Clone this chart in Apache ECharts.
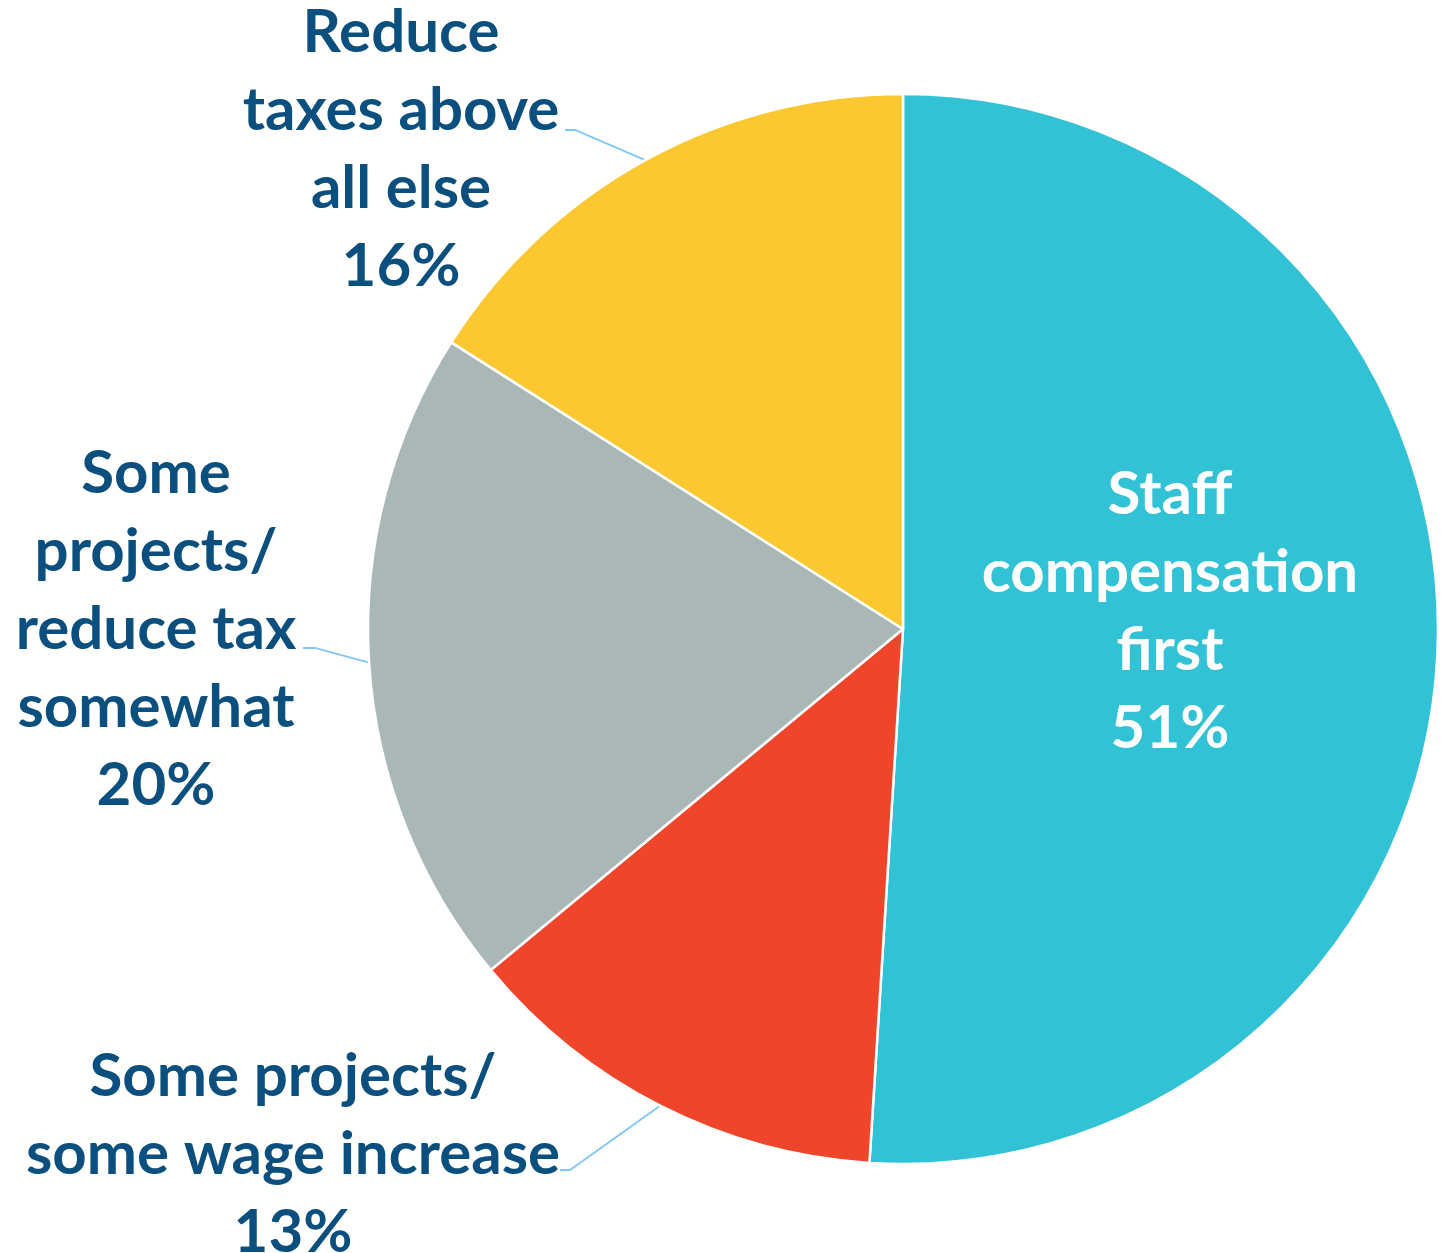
<!DOCTYPE html>
<html><head><meta charset="utf-8">
<script src="https://cdn.jsdelivr.net/npm/echarts@6/dist/echarts.min.js"></script>
<style>html,body{margin:0;padding:0;background:#fff}#c{width:1442px;height:1253px}</style>
</head><body><div id="c"></div>
<script>
const categories = ['Staff\ncompensation\nfirst', 'Some projects/\nsome wage increase', 'Some\nprojects/\nreduce tax\nsomewhat', 'Reduce\ntaxes above\nall else'];
const values = [51, 13, 20, 16];
const colors = ['#31C2D5', '#EF462B', '#A9B8B6', '#FCC831'];

// label placement (layout only)
const labelPlaces = [
  { x: 1170, y: 612 },
  { x: 293, y: 1155, line: [[570, 1170], [560, 1170]] },
  { x: 156, y: 630, line: [[315, 648], [303, 648]] },
  { x: 401, y: 150, line: [[575, 130], [565, 130]] }
];

const chart = echarts.init(document.getElementById('c'), null, { renderer: 'canvas' });
chart.setOption({
  animation: false,
  series: [{
    type: 'pie',
    center: [903, 629],
    radius: 535,
    startAngle: 90,
    clockwise: true,
    avoidLabelOverlap: false,
    itemStyle: { borderColor: '#fff', borderWidth: 2.5 },
    label: {
      show: true,
      position: 'outside',
      formatter: '{b}\n{c}%',
      fontFamily: 'Lato',
      fontWeight: 'bold',
      fontSize: 60,
      lineHeight: 78,
      color: '#0A4F7D'
    },
    labelLine: { show: true, lineStyle: { color: '#7FC8F2', width: 1.8 } },
    labelLayout: function (p) {
      const L = labelPlaces[p.dataIndex];
      const out = { x: L.x, y: L.y, align: 'center', verticalAlign: 'middle' };
      if (L.line && p.labelLinePoints) {
        out.labelLinePoints = [p.labelLinePoints[0], L.line[0], L.line[1]];
      }
      return out;
    },
    data: values.map((v, i) => ({
      name: categories[i],
      value: v,
      itemStyle: { color: colors[i] },
      label: i === 0 ? { position: 'inside', color: '#fff' } : undefined,
      labelLine: i === 0 ? { show: false } : undefined
    }))
  }]
});
</script></body></html>
